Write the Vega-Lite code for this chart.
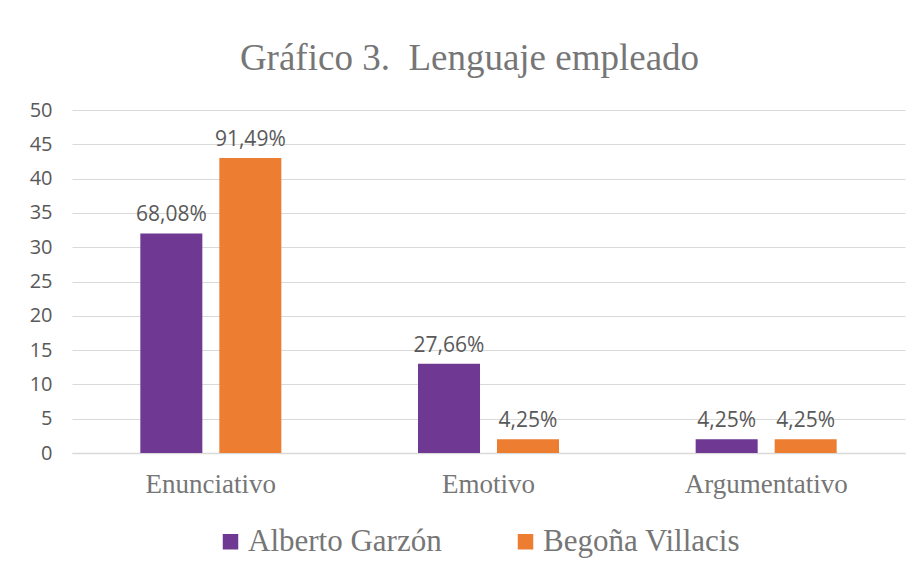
{
  "$schema": "https://vega.github.io/schema/vega-lite/v6.json",
  "autosize": {"type": "none"},
  "width": 833,
  "height": 343,
  "padding": {"left": 72, "top": 110, "right": 15, "bottom": 121},
  "background": "white",
  "config": {"view": {"stroke": null}},
  "title": {
    "text": "Gráfico 3.\u00a0\u00a0Lenguaje empleado",
    "font": "Liberation Serif",
    "fontSize": 37,
    "fontWeight": "normal",
    "color": "#767676",
    "anchor": "middle",
    "dx": -19,
    "offset": 22
  },
  "data": {
    "values": [
      {"cat": "Enunciativo", "serie": "Alberto Garzón", "value": 32, "label": "68,08%"},
      {"cat": "Enunciativo", "serie": "Begoña Villacis", "value": 43, "label": "91,49%"},
      {"cat": "Emotivo", "serie": "Alberto Garzón", "value": 13, "label": "27,66%"},
      {"cat": "Emotivo", "serie": "Begoña Villacis", "value": 2, "label": "4,25%"},
      {"cat": "Argumentativo", "serie": "Alberto Garzón", "value": 2, "label": "4,25%"},
      {"cat": "Argumentativo", "serie": "Begoña Villacis", "value": 2, "label": "4,25%"}
    ]
  },
  "encoding": {
    "x": {
      "field": "cat",
      "type": "nominal",
      "sort": ["Enunciativo", "Emotivo", "Argumentativo"],
      "scale": {"paddingInner": 0, "paddingOuter": 0},
      "axis": {
        "title": null,
        "labelAngle": 0,
        "domain": true,
        "domainColor": "#D9D9D9",
        "domainWidth": 1.5,
        "ticks": false,
        "labelFont": "Liberation Serif",
        "labelFontSize": 27,
        "labelColor": "#767676",
        "labelPadding": 18
      }
    },
    "xOffset": {
      "field": "serie",
      "type": "nominal",
      "scale": {"paddingInner": 0.215, "paddingOuter": 0.865}
    },
    "y": {
      "field": "value",
      "type": "quantitative",
      "scale": {"domain": [0, 50]},
      "axis": {
        "title": null,
        "values": [0, 5, 10, 15, 20, 25, 30, 35, 40, 45, 50],
        "domain": false,
        "ticks": false,
        "grid": true,
        "gridColor": "#D9D9D9",
        "gridWidth": 1,
        "labelFont": "Open Sans",
        "labelFontSize": 20,
        "labelColor": "#595959",
        "labelPadding": 20
      }
    }
  },
  "layer": [
    {
      "mark": {"type": "bar"},
      "encoding": {
        "color": {
          "field": "serie",
          "type": "nominal",
          "scale": {"domain": ["Alberto Garzón", "Begoña Villacis"], "range": ["#6F3893", "#ED7D31"]},
          "legend": {
            "title": null,
            "orient": "none",
            "legendX": 143,
            "legendY": 416,
            "direction": "horizontal",
            "symbolType": "square",
            "symbolSize": 240,
            "symbolStrokeWidth": 0,
            "labelFont": "Liberation Serif",
            "labelFontSize": 31,
            "labelColor": "#767676",
            "labelOffset": 2,
            "columnPadding": 68,
            "labelLimit": 400
          }
        }
      }
    },
    {
      "mark": {"type": "text", "baseline": "bottom", "dy": -8, "font": "Open Sans", "fontSize": 21, "color": "#595959"},
      "encoding": {"text": {"field": "label"}}
    }
  ]
}
